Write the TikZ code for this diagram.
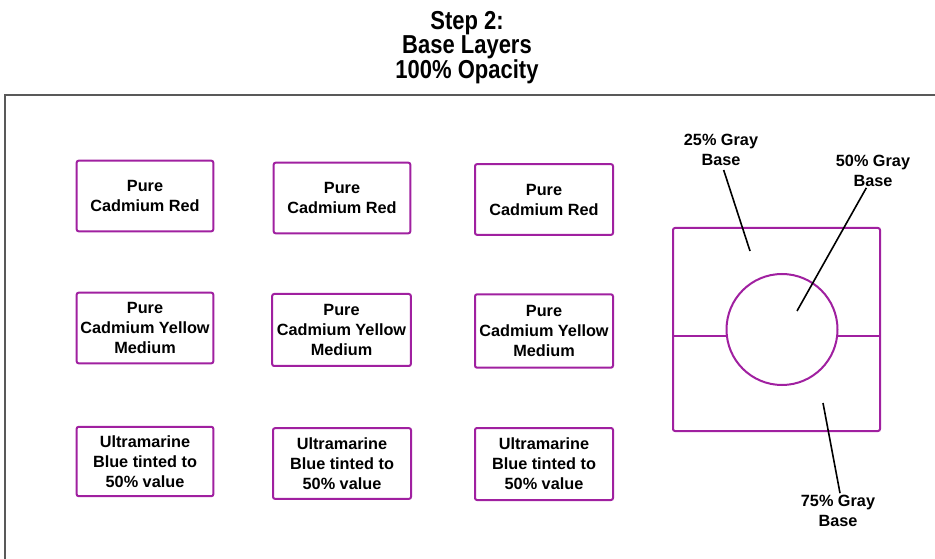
\documentclass[tikz,border=0pt]{standalone}
\usepackage{fontspec}
\setmainfont{Liberation Sans}
\definecolor{mag}{RGB}{160,32,160}
\begin{document}
\begin{tikzpicture}[x=0.75pt,y=-0.75pt,
 cbox/.style={draw=mag,line width=1.5pt,rounded corners=1.5pt,align=center,
   font=\bfseries\fontsize{12.2}{15}\selectfont,inner sep=0pt,
   minimum width=102.5pt,minimum height=53pt},
 lbl/.style={align=center,font=\bfseries\fontsize{12.2}{15}\selectfont,inner sep=1pt},
 lead/.style={line width=1.2pt,black},
 magline/.style={draw=mag,line width=1.5pt}]
\useasboundingbox (0,0) rectangle (935,559);
\begin{scope}
\clip (0,0) rectangle (935,559);
\draw[gray!70!black,line width=0.8pt] (5,570) -- (5,95) -- (945,95);
\end{scope}
\node[inner sep=0pt] (title) at (467,48) {\scalebox{1}[1.18]{\parbox{150pt}{\centering\bfseries\fontsize{16.5}{14.9}\selectfont Step 2:\\Base Layers\\100\% Opacity}}};
% row 1
\node[cbox] (r1a) at (145,196) {Pure\\Cadmium Red};
\node[cbox] (r1b) at (342,198) {Pure\\Cadmium Red};
\node[cbox,minimum width=103.5pt] (r1c) at (544,199.5) {Pure\\Cadmium Red};
% row 2
\node[cbox] (r2a) at (145,328) {Pure\\Cadmium Yellow\\Medium};
\node[cbox,minimum width=104pt,minimum height=54pt] (r2b) at (341.5,330) {Pure\\Cadmium Yellow\\Medium};
\node[cbox,minimum width=103.5pt,minimum height=55pt] (r2c) at (544,331) {Pure\\Cadmium Yellow\\Medium};
% row 3
\node[cbox,minimum height=52pt] (r3a) at (145,461.5) {Ultramarine\\Blue tinted to\\50\% value};
\node[cbox,minimum width=103.5pt] (r3b) at (342,463.5) {Ultramarine\\Blue tinted to\\50\% value};
\node[cbox,minimum width=103.5pt,minimum height=54pt] (r3c) at (544,464) {Ultramarine\\Blue tinted to\\50\% value};
% right diagram
\node[magline,rounded corners=1.5pt,minimum width=155.25pt,minimum height=152.25pt,inner sep=0pt] (sq) at (776.5,329.5) {};
\node[magline,circle,minimum size=83.25pt,inner sep=0pt] (circ) at (782,329.5) {};
\draw[magline] (sq.west |- circ.187.8) -- (circ.187.8);
\draw[magline] (circ.-7.8) -- (sq.east |- circ.-7.8);
\node[lbl] (g25) at (721,150) {25\% Gray\\Base};
\node[lbl] (g50) at (873,170.5) {50\% Gray\\Base};
\node[lbl] (g75) at (838,510.5) {75\% Gray\\Base};
\coordinate (p25) at (750,251);
\coordinate (p50) at (797,311);
\coordinate (p75) at (823,403);
\draw[lead] ([xshift=2pt,yshift=-2pt]g25.south) -- (p25);
\draw[lead] ([xshift=-5pt]g50.south) -- (p50);
\draw[lead] ([xshift=1.5pt]g75.north) -- (p75);
\end{tikzpicture}
\end{document}
